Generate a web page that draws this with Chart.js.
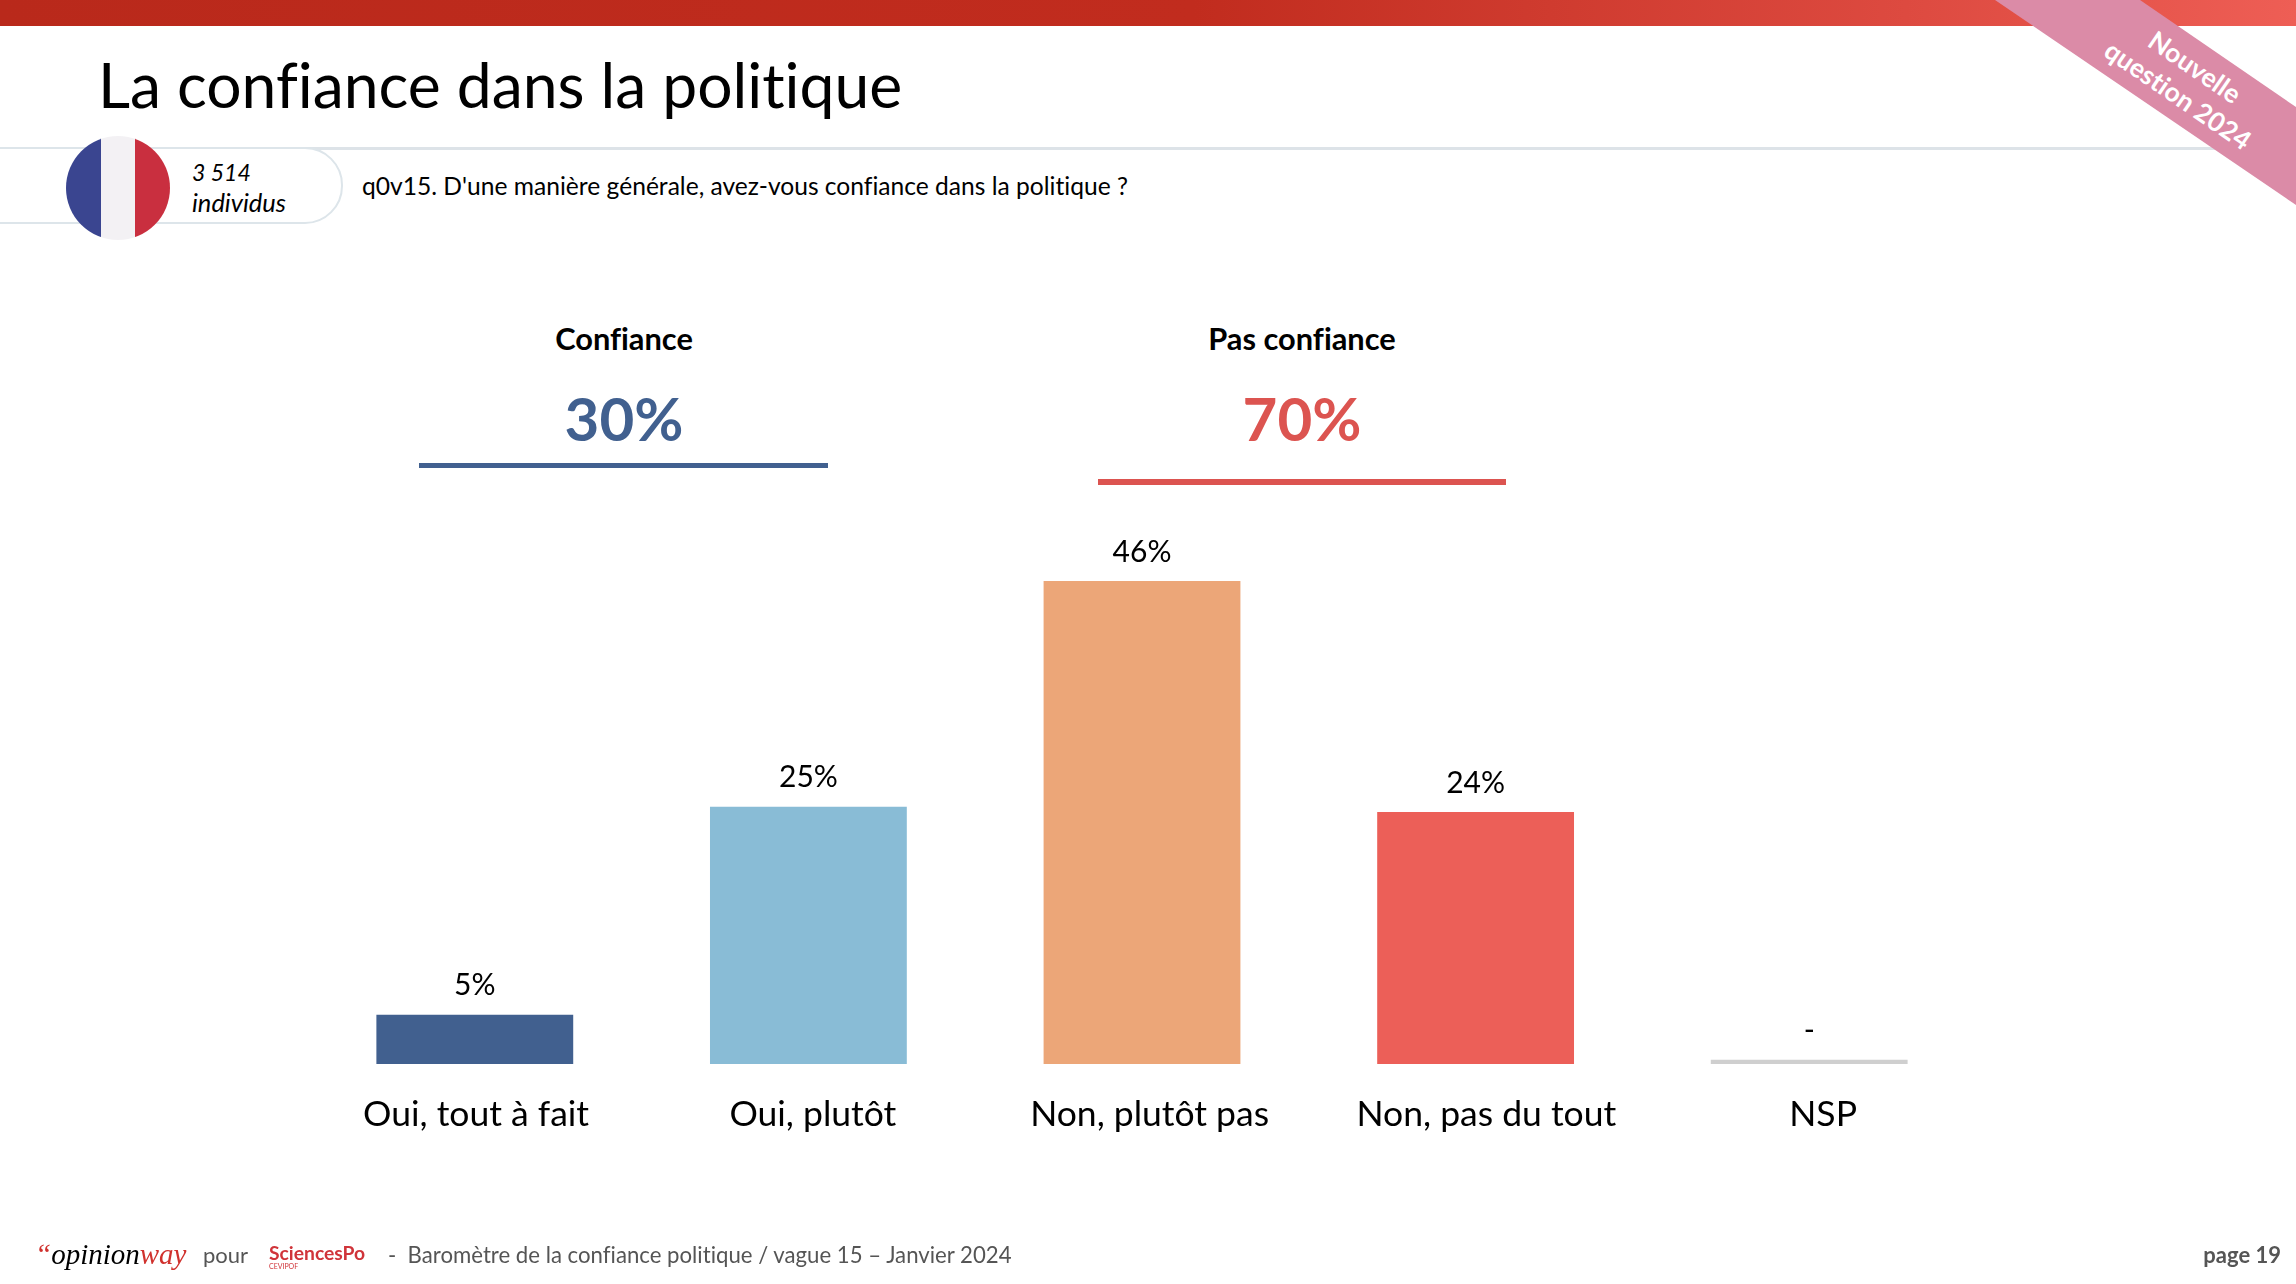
<!DOCTYPE html>
<html lang="fr">
<head>
<meta charset="utf-8">
<title>La confiance dans la politique</title>
<script src="https://cdn.jsdelivr.net/npm/chart.js@4"></script>
<style>
html,body{margin:0;padding:0;background:#fff;width:2296px;height:1284px;overflow:hidden;font-family:Lato,sans-serif;color:#000;font-variant-ligatures:none}
.abs{position:absolute;white-space:nowrap;line-height:1}
.c{transform:translate(-50%,-50%)}
.v{transform:translateY(-50%)}
#topbar{left:0;top:0;width:2296px;height:26px;background:linear-gradient(90deg,#b9291b 0%,#c12c1e 52%,#dd4a40 83%,#ee5e55 100%)}
#ribbon{left:1900px;top:0;width:396px;height:230px;background:#db8ba7;clip-path:polygon(95px 0,240px 0,396px 107px,396px 205px)}
#sep{left:0;top:147px;width:2296px;height:2.5px;background:#dde3e8}
#pill{left:-60px;top:147px;width:403px;height:77px;box-sizing:border-box;border:2.5px solid #dde5ea;border-radius:0 38px 38px 0;background:#fff}
#flag{left:66px;top:136px;width:104px;height:104px;border-radius:50%;background:linear-gradient(90deg,#3a4590 0 35px,#f3f1f4 35px 69px,#c92f3f 69px)}
canvas{position:absolute;left:0;top:0;font-variant-ligatures:none}
</style>
</head>
<body>
<div class="abs" id="topbar"></div>
<div class="abs" id="sep"></div>
<div class="abs" id="ribbon"></div>
<div class="abs c" style="left:2195px;top:67px;color:#fff;font-weight:700;font-size:26.5px;transform:translate(-50%,-50%) rotate(34.4deg)">Nouvelle</div>
<div class="abs c" style="left:2178px;top:95px;color:#fff;font-weight:700;font-size:26.5px;transform:translate(-50%,-50%) rotate(34.4deg)">question 2024</div>
<div class="abs v" style="left:98px;top:84px;font-size:62.4px">La confiance dans la politique</div>
<div class="abs" id="pill"></div>
<div class="abs" id="flag"></div>
<div class="abs v" style="left:192px;top:172px;font-size:23px;font-style:italic">3 514</div>
<div class="abs v" style="left:192px;top:203px;font-size:25.5px;font-style:italic">individus</div>
<div class="abs v" style="left:362px;top:186px;font-size:24.6px">q0v15. D'une manière générale, avez-vous confiance dans la politique ?</div>

<div class="abs c" style="left:624px;top:339px;font-size:30.8px;font-weight:700">Confiance</div>
<div class="abs c" style="left:624px;top:418px;font-size:60px;font-weight:700;color:#41608f">30%</div>
<div class="abs" style="left:419px;top:463px;width:409px;height:5px;background:#41608f"></div>
<div class="abs c" style="left:1302px;top:339px;font-size:30.8px;font-weight:700">Pas confiance</div>
<div class="abs c" style="left:1302px;top:418px;font-size:60px;font-weight:700;color:#dc5450">70%</div>
<div class="abs" style="left:1098px;top:479px;width:408px;height:6px;background:#dc5450"></div>

<canvas id="chart" width="2296" height="1284"></canvas>

<div class="abs v" style="left:35px;top:1254px;font-family:'Liberation Serif',serif;font-style:italic;font-size:29px"><span style="color:#d0312d">“</span>opinion<span style="color:#d0312d">way</span></div>
<div class="abs v" style="left:203px;top:1255px;font-size:22px;color:#555">pour</div>
<div class="abs v" style="left:269px;top:1253px;font-size:19.3px;font-weight:700;color:#d0343a">SciencesPo</div>
<div class="abs v" style="left:269px;top:1266px;font-size:7px;color:#d0343a">CEVIPOF</div>
<div class="abs v" style="left:388px;top:1255px;font-size:22.2px;color:#555">-&nbsp; Baromètre de la confiance politique / vague 15 – Janvier 2024</div>
<div class="abs v" style="right:15px;top:1255px;font-size:22px;font-weight:700;color:#555">page 19</div>

<script>
const categories = ["Oui, tout à fait", "Oui, plutôt", "Non, plutôt pas", "Non, pas du tout", "NSP"];
const barValues = [4.7, 24.5, 46, 24.0, 0.4];
const valueLabels = ["5%", "25%", "46%", "24%", "-"];
const barColors = ["#41608f", "#89bcd6", "#eca678", "#ec5f58", "#cfcfcf"];
const labelTickValues = [0, 1, 2, 3, 4];

const valueLabelPlugin = {
  id: "valueLabels",
  afterDatasetsDraw(chart) {
    const ctx = chart.ctx;
    const meta = chart.getDatasetMeta(0);
    ctx.save();
    ctx.font = "30px Lato";
    ctx.fillStyle = "#000";
    ctx.textAlign = "center";
    ctx.textBaseline = "middle";
    meta.data.forEach((bar, i) => ctx.fillText(valueLabels[i], bar.x, bar.y - 29));
    ctx.restore();
  }
};

new Chart(document.getElementById("chart"), {
  type: "bar",
  data: {
    labels: categories,
    datasets: [{
      data: barValues,
      backgroundColor: barColors,
      borderWidth: 0,
      categoryPercentage: 1,
      barPercentage: 0.59,
      xAxisID: "x",
      yAxisID: "y"
    }]
  },
  plugins: [valueLabelPlugin],
  options: {
    responsive: false,
    devicePixelRatio: 1,
    animation: false,
    layout: { padding: { left: 308, right: 320, top: 539, bottom: 150 } },
    plugins: { legend: { display: false }, title: { display: false }, tooltip: { enabled: false } },
    scales: {
      x: { type: "category", display: false, offset: true },
      y: { type: "linear", display: false, min: 0, max: 50 },
      xLabels: {
        type: "linear",
        position: "bottom",
        offset: false,
        min: -0.499,
        max: 4.454,
        grid: { display: false, drawTicks: false, offset: false },
        border: { display: false },
        afterBuildTicks(scale) { scale.ticks = labelTickValues.map(v => ({ value: v })); },
        afterFit(scale) { scale.height = 70; },
        ticks: {
          autoSkip: false,
          maxRotation: 0,
          minRotation: 0,
          padding: 29,
          color: "#000",
          font: { family: "Lato", size: 35.5 },
          callback: (v) => categories[v]
        }
      }
    }
  }
});
</script>
</body>
</html>
